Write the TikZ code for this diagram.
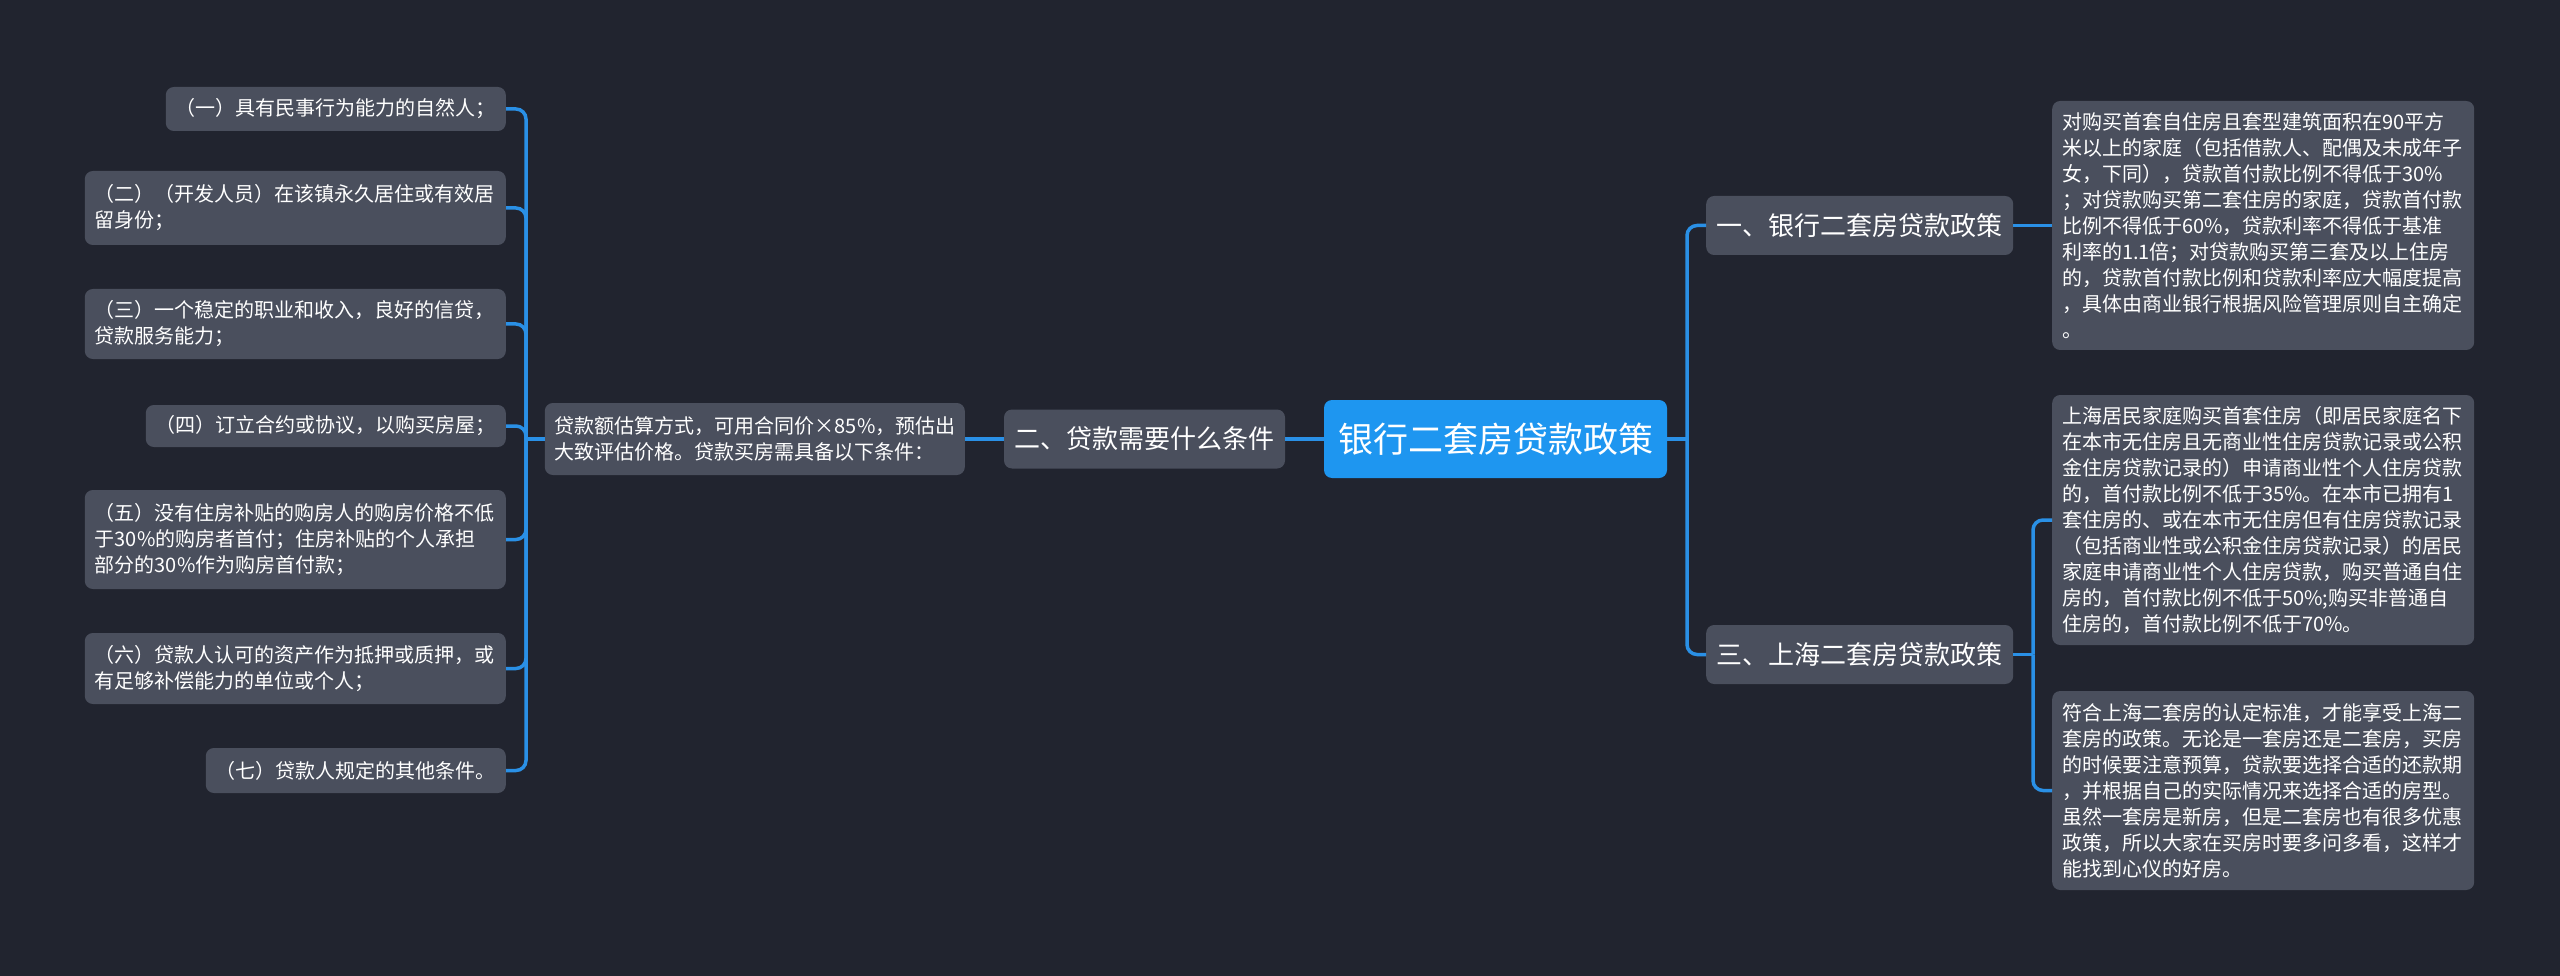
\documentclass[tikz,border=0pt]{standalone}
\usepackage{fontspec}
\newfontfamily\cjk{Noto Sans CJK SC}
\definecolor{bg}{HTML}{21242F}
\definecolor{nodegray}{HTML}{4A4F5D}
\definecolor{mainblue}{HTML}{1E96F0}
\definecolor{linkblue}{HTML}{2A90E6}
\begin{document}
\begin{tikzpicture}[x=1pt,y=-1pt,
  box/.style={fill=nodegray, rounded corners=8pt, text=white, inner ysep=0pt},
  leaf/.style={box, font=\cjk\fontsize{20}{26}\selectfont, inner xsep=10pt, align=left},
  leafwide/.style={leaf, text width=401pt},
  rleaf/.style={leaf, text width=402pt, anchor=west},
  branch/.style={box, font=\cjk\fontsize{26}{32}\selectfont, inner xsep=10pt, minimum height=59pt},
  root/.style={fill=mainblue, rounded corners=8pt, text=white, font=\cjk\fontsize{35}{42}\selectfont,
    minimum width=343pt, minimum height=78pt, inner sep=0pt},
  link/.style={draw=linkblue, line width=3.5pt, rounded corners=10pt}
]
\fill[bg] (0,0) rectangle (2560,976);
\useasboundingbox (0,0) rectangle (2560,976);

% root
\node[root] (c) at (1495.5,439) {银行二套房贷款政策};

% right branches
\node[branch, anchor=west, minimum width=307pt] (r1) at (1706,225.5) {一、银行二套房贷款政策};
\node[branch, anchor=west, minimum width=307pt] (r3) at (1706,654.5) {三、上海二套房贷款政策};

\node[rleaf, minimum height=249pt] (ra) at (2052,225.5) {对购买首套自住房且套型建筑面积在90平方\\
米以上的家庭（包括借款人、配偶及未成年子\\
女，下同），贷款首付款比例不得低于30\%\\
；对贷款购买第二套住房的家庭，贷款首付款\\
比例不得低于60\%，贷款利率不得低于基准\\
利率的1.1倍；对贷款购买第三套及以上住房\\
的，贷款首付款比例和贷款利率应大幅度提高\\
，具体由商业银行根据风险管理原则自主确定\\
。};

\node[rleaf, minimum height=250pt] (rb) at (2052,520) {上海居民家庭购买首套住房（即居民家庭名下\\
在本市无住房且无商业性住房贷款记录或公积\\
金住房贷款记录的）申请商业性个人住房贷款\\
的，首付款比例不低于35\%。在本市已拥有1\\
套住房的、或在本市无住房但有住房贷款记录\\
（包括商业性或公积金住房贷款记录）的居民\\
家庭申请商业性个人住房贷款，购买普通自住\\
房的，首付款比例不低于50\%;购买非普通自\\
住房的，首付款比例不低于70\%。};

\node[rleaf, minimum height=199pt] (rc) at (2052,790.5) {符合上海二套房的认定标准，才能享受上海二\\
套房的政策。无论是一套房还是二套房，买房\\
的时候要注意预算，贷款要选择合适的还款期\\
，并根据自己的实际情况来选择合适的房型。\\
虽然一套房是新房，但是二套房也有很多优惠\\
政策，所以大家在买房时要多问多看，这样才\\
能找到心仪的好房。};

% left branch
\node[branch, minimum width=281pt] (l1) at (1144.5,439) {二、贷款需要什么条件};
\node[leaf, text width=400pt, anchor=east, minimum height=72pt] (m) at (965,439) {贷款额估算方式，可用合同价×85\%，预估出\\
大致评估价格。贷款买房需具备以下条件：};

% left leaves
\node[leaf, anchor=east, minimum height=44pt] (La) at (506,109) {（一）具有民事行为能力的自然人；};
\node[leafwide, anchor=east, minimum height=74pt] (Lb) at (506,208) {（二）（开发人员）在该镇永久居住或有效居\\
留身份；};
\node[leafwide, anchor=east, minimum height=70pt] (Lc) at (506,324) {（三）一个稳定的职业和收入，良好的信贷，\\
贷款服务能力；};
\node[leaf, anchor=east, minimum height=42pt] (Ld) at (506,426) {（四）订立合约或协议，以购买房屋；};
\node[leafwide, anchor=east, minimum height=99pt] (Le) at (506,539.5) {（五）没有住房补贴的购房人的购房价格不低\\
于30\%的购房者首付；住房补贴的个人承担\\
部分的30\%作为购房首付款；};
\node[leafwide, anchor=east, minimum height=71pt] (Lf) at (506,668.5) {（六）贷款人认可的资产作为抵押或质押，或\\
有足够补偿能力的单位或个人；};
\node[leaf, anchor=east, minimum height=45pt] (Lg) at (506,770.5) {（七）贷款人规定的其他条件。};

% connectors right
\coordinate (jr) at (1687,439);
\draw[link] (c.east) -- (jr);
\draw[link] (jr) |- (r1.west);
\draw[link] (jr) |- (r3.west);
\draw[link] (r1.east) -- (ra.west);
\coordinate (jr3) at (2033,654.5);
\draw[link] (r3.east) -- (jr3);
\draw[link] (jr3) |- (rb.west);
\draw[link] (jr3) |- (rc.west);

% connectors left
\draw[link] (c.west) -- (l1.east);
\draw[link] (l1.west) -- (m.east);
\coordinate (jl) at (526,439);
\draw[link] (m.west) -- (jl);
\foreach \n in {La,Lb,Lc,Ld,Le,Lf,Lg}{
  \draw[link] (jl) |- (\n.east);
}
\end{tikzpicture}
\end{document}
